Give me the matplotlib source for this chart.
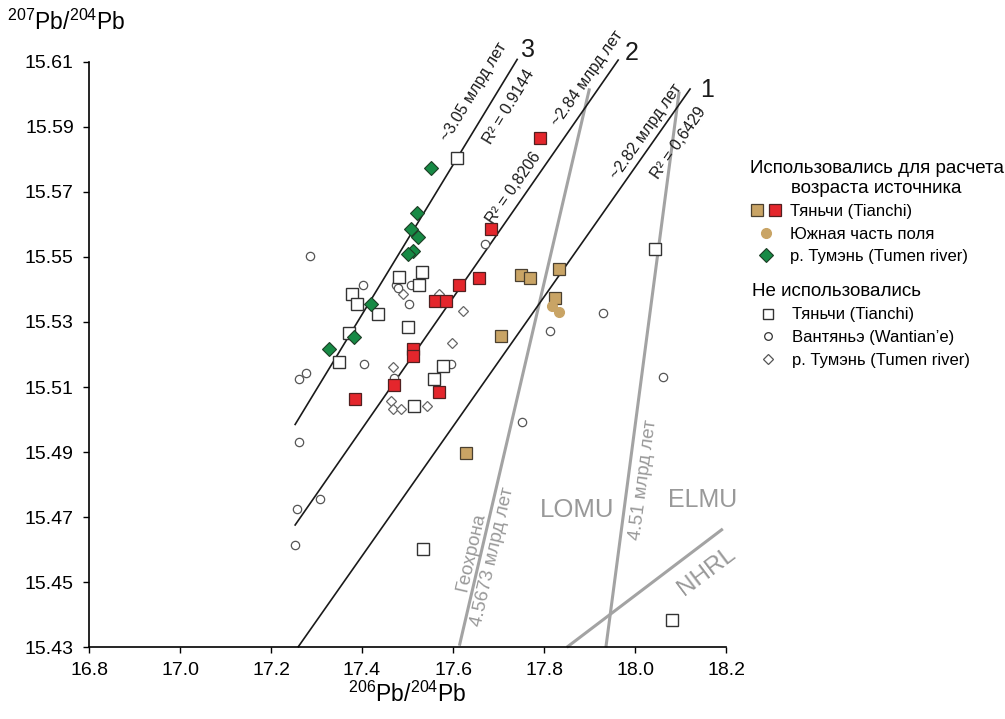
import numpy as np
import matplotlib
matplotlib.use('Agg')
import matplotlib.pyplot as plt
from matplotlib.lines import Line2D
from matplotlib.legend_handler import HandlerLine2D, HandlerTuple

plt.rcParams['font.family'] = ['Liberation Sans', 'DejaVu Sans']
plt.rcParams['mathtext.fontset'] = 'custom'
plt.rcParams['mathtext.rm'] = 'Liberation Sans'
plt.rcParams['mathtext.default'] = 'regular'

# used samples
red_sq_x = [17.791, 17.683, 17.656, 17.613, 17.561, 17.585, 17.511, 17.513, 17.471, 17.569, 17.384]
red_sq_y = [15.5865, 15.5585, 15.5434, 15.5413, 15.5363, 15.5363, 15.5217, 15.5195, 15.5105, 15.5084, 15.5063]
tan_sq_x = [17.750, 17.770, 17.834, 17.824, 17.705, 17.628]
tan_sq_y = [15.5445, 15.5434, 15.5463, 15.5374, 15.5258, 15.4898]
tan_ci_x = [17.818, 17.833]
tan_ci_y = [15.5350, 15.5331]
green_x = [17.552, 17.521, 17.507, 17.522, 17.511, 17.500, 17.419, 17.382, 17.328]
green_y = [15.5774, 15.5634, 15.5585, 15.5560, 15.5518, 15.5509, 15.5355, 15.5253, 15.5217]

# not used samples
open_sq_x = [17.608, 18.044, 17.531, 17.482, 17.526, 17.378, 17.390, 17.435, 17.501, 17.371,
             17.350, 17.579, 17.558, 17.514, 17.533, 18.082]
open_sq_y = [15.5805, 15.5524, 15.5454, 15.5437, 15.5413, 15.5385, 15.5355, 15.5324, 15.5284, 15.5267,
             15.5176, 15.5165, 15.5124, 15.5043, 15.4602, 15.4384]
open_ci_x = [17.286, 17.671, 17.403, 17.475, 17.479, 17.508, 17.503, 17.405, 17.596, 17.470, 17.262,
             17.277, 17.813, 17.929, 18.062, 17.752, 17.262, 17.308, 17.256, 17.253]
open_ci_y = [15.5504, 15.5540, 15.5413, 15.5413, 15.5405, 15.5414, 15.5355, 15.5171, 15.5171, 15.5129, 15.5125,
             15.5142, 15.5271, 15.5327, 15.5130, 15.4993, 15.4930, 15.4755, 15.4724, 15.4614]
open_di_x = [17.569, 17.489, 17.621, 17.597, 17.468, 17.464, 17.467, 17.486, 17.543]
open_di_y = [15.5385, 15.5387, 15.5334, 15.5234, 15.5162, 15.5056, 15.5033, 15.5033, 15.5043]

# regression lines (x0, y0, x1, y1)
line3 = [17.253, 15.4985, 17.741, 15.6107]
line2 = [17.253, 15.4676, 17.963, 15.6105]
line1 = [17.260, 15.4302, 18.121, 15.6016]
# reference lines
geochron = [17.614, 15.4305, 17.900, 15.6018]
line451 = [17.936, 15.4300, 18.097, 15.6008]
nhrl = [17.850, 15.4300, 18.193, 15.4664]

red = '#e4262c'
tan = '#c9a465'
green = '#178a45'
grey = '#a3a3a3'

fig = plt.figure(figsize=(10.05, 7.19), dpi=100)
ax = fig.add_axes([0.0886, 0.0997, 0.6338, 0.8145])

for ln in (geochron, line451, nhrl):
    ax.plot([ln[0], ln[2]], [ln[1], ln[3]], color=grey, lw=2.2, zorder=1, clip_on=False,
            solid_capstyle='butt')
for ln in (line3, line2, line1):
    ax.plot([ln[0], ln[2]], [ln[1], ln[3]], color='#1a1a1a', lw=1.2, zorder=2, clip_on=False)

ax.plot(open_ci_x, open_ci_y, 'o', ms=6, mfc='white', mec='#555555', mew=0.9, zorder=3, clip_on=False)
ax.plot(open_di_x, open_di_y, 'D', ms=5, mfc='white', mec='#666666', mew=0.9, zorder=3)
ax.plot(open_sq_x, open_sq_y, 's', ms=8, mfc='white', mec='#333333', mew=1.0, zorder=3)
ax.plot(tan_sq_x, tan_sq_y, 's', ms=8.5, mfc=tan, mec='#4a4030', mew=0.9, zorder=4)
ax.plot(tan_ci_x, tan_ci_y, 'o', ms=7, mfc=tan, mec=tan, zorder=4)
ax.plot(red_sq_x, red_sq_y, 's', ms=8.5, mfc=red, mec='#502020', mew=0.9, zorder=4)
ax.plot(green_x, green_y, 'D', ms=7.5, mfc=green, mec='#1d3d25', mew=0.8, zorder=4)

ax.set_xlim(16.8, 18.2)
ax.set_ylim(15.43, 15.61)
ax.set_xticks(np.arange(16.8, 18.21, 0.2))
ax.set_yticks(np.arange(15.43, 15.611, 0.02))
ax.xaxis.set_major_formatter(matplotlib.ticker.FormatStrFormatter('%.1f'))
ax.yaxis.set_major_formatter(matplotlib.ticker.FormatStrFormatter('%.2f'))
ax.tick_params(direction='out', length=4, width=1, labelsize=14)
ax.tick_params(axis='x', pad=6.5)
ax.tick_params(axis='y', pad=7)
for s in ('top', 'right'):
    ax.spines[s].set_visible(False)
for s in ('left', 'bottom'):
    ax.spines[s].set_linewidth(1.2)

ax.set_ylabel(r'$^{207}$Pb/$^{204}$Pb', fontsize=16.5, rotation=0, ha='center', va='center')
ax.yaxis.set_label_coords(-0.036, 1.068)
ax.set_xlabel(r'$^{206}$Pb/$^{204}$Pb', fontsize=16.5, va='center')
ax.xaxis.set_label_coords(0.5, -0.08)

# line labels
kw = dict(fontsize=11.5, ha='center', va='center', rotation_mode='anchor', color='#1a1a1a')
ax.text(17.646, 15.6008, '~3.05 млрд лет', rotation=58.7, **kw)
ax.text(17.722, 15.5962, 'R² = 0.9144', rotation=58.7, **kw)
ax.text(17.894, 15.6049, '~2.84 млрд лет', rotation=55, **kw)
ax.text(17.733, 15.5711, 'R² = 0,8206', rotation=55, **kw)
ax.text(18.024, 15.5885, '~2.82 млрд лет', rotation=55, **kw)
ax.text(18.097, 15.5849, 'R² = 0,6429', rotation=55, **kw)
ax.text(17.765, 15.6136, '3', fontsize=18, ha='center', va='center', color='#1a1a1a')
ax.text(17.993, 15.6127, '2', fontsize=18, ha='center', va='center', color='#1a1a1a')
ax.text(18.158, 15.6013, '1', fontsize=18, ha='center', va='center', color='#1a1a1a')

gk = dict(ha='center', va='center', rotation_mode='anchor', color='#999999')
ax.text(17.641, 15.4594, 'Геохрона', fontsize=13.5, rotation=77, **gk)
ax.text(17.687, 15.4578, '4.5673 млрд лет', fontsize=13.5, rotation=77, **gk)
ax.text(18.019, 15.4814, '4.51 млрд лет', fontsize=13.5, rotation=82.5, **gk)
ax.text(17.872, 15.4722, 'LOMU', fontsize=18.5, **gk)
ax.text(18.149, 15.4753, 'ELMU', fontsize=18, **gk)
ax.text(18.158, 15.4532, 'NHRL', fontsize=17.5, rotation=37, **gk)


class RightMarker(HandlerLine2D):
    def get_xdata(self, legend, xdescent, ydescent, width, height, fontsize):
        xm = -xdescent + width * 0.78
        return np.array([-xdescent, -xdescent + width]), np.array([xm])


h_tan = Line2D([], [], ls='none', marker='s', ms=8, mfc=tan, mec='#4a4030', mew=0.9)
h_red = Line2D([], [], ls='none', marker='s', ms=8, mfc=red, mec='#502020', mew=0.9)
h_tci = Line2D([], [], ls='none', marker='o', ms=7, mfc=tan, mec=tan)
h_grn = Line2D([], [], ls='none', marker='D', ms=7, mfc=green, mec='#1d3d25', mew=0.8)
h_osq = Line2D([], [], ls='none', marker='s', ms=7, mfc='white', mec='#333333', mew=1.0)
h_oci = Line2D([], [], ls='none', marker='o', ms=5.5, mfc='white', mec='#333333', mew=0.9)
h_odi = Line2D([], [], ls='none', marker='D', ms=5, mfc='white', mec='#555555', mew=0.9)

hmap = {tuple: HandlerTuple(ndivide=None, pad=0.15), Line2D: RightMarker(numpoints=1)}
common = dict(loc='upper left', bbox_transform=fig.transFigure, frameon=False,
              prop={'size': 12}, title_fontsize=13.5, handlelength=2.0, handletextpad=0.4,
              labelspacing=0.45, borderpad=0, borderaxespad=0, handler_map=hmap,
              alignment='left')

leg1 = ax.legend(handles=[(h_tan, h_red), h_tci, h_grn],
                 labels=['Тяньчи (Tianchi)', 'Южная часть поля', 'р. Тумэнь (Tumen river)'],
                 title='Использовались для расчета\nвозраста источника',
                 bbox_to_anchor=(0.746, 1 - 160 / 719), **common)
leg1.get_title().set_multialignment('center')
ax.add_artist(leg1)

leg2 = ax.legend(handles=[h_osq, h_oci, h_odi],
                 labels=['Тяньчи (Tianchi)', 'Вантяньэ (Wantian’e)', 'р. Тумэнь (Tumen river)'],
                 title='Не использовались',
                 bbox_to_anchor=(0.748, 1 - 283 / 719), **common)

fig.savefig('out.png', dpi=100)
